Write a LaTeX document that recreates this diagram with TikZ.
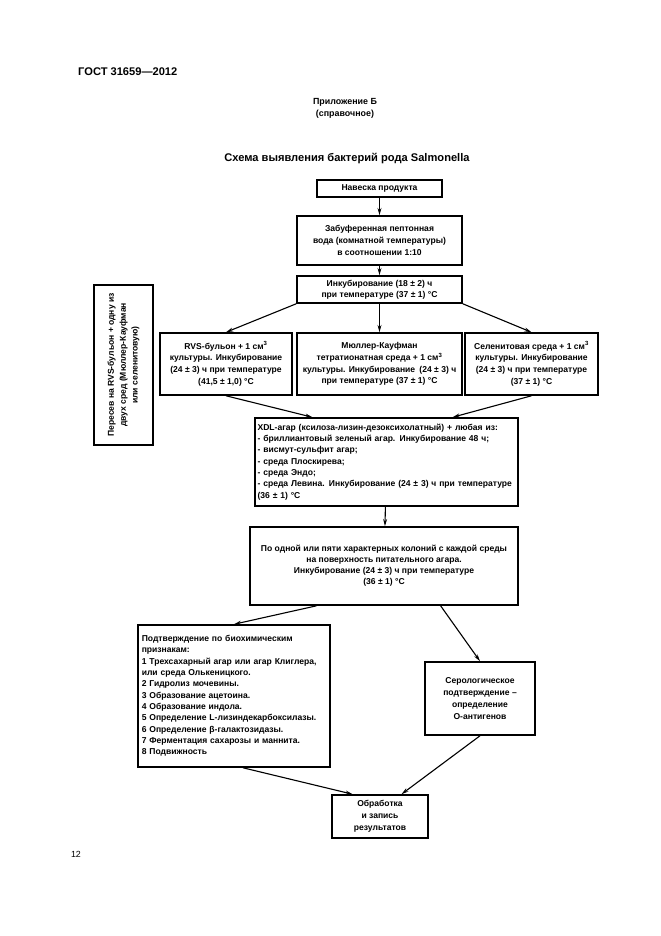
\documentclass[tikz,border=0pt]{standalone}
\usepackage{fontspec}
\setmainfont{Liberation Sans}
\usetikzlibrary{arrows.meta,calc}
\begin{document}
\begin{tikzpicture}[x=0.9pt,y=-0.9pt,
  box/.style={draw,line width=1.4pt,inner sep=2pt,align=center,
    font=\fontsize{7.7}{10.6}\selectfont\bfseries},
  arr/.style={line width=1pt,-{Stealth[length=6.5pt,width=3.5pt]}},
  hdr/.style={inner sep=0pt,font=\fontsize{10}{12}\selectfont\bfseries}]
\useasboundingbox (0,0) rectangle (661,936);
\fill[white] (0,0) rectangle (661,936);

\node[hdr,anchor=west] (gost) at (78,72) {ГОСТ 31659—2012};
\node[inner sep=0pt,align=center,font=\fontsize{8}{11}\selectfont\bfseries] (app) at (345,108) {Приложение Б\\(справочное)};
\node[hdr] (title) at (347,159) {Схема выявления бактерий рода Salmonella};

\node[box,minimum width=112.5pt,minimum height=15.3pt] (b1) at (379.5,188.5) {Навеска продукта};
\node[box,minimum width=148.5pt,minimum height=44.1pt] (b2) at (379.5,240.5) {Забуференная пептонная\\вода (комнатной температуры)\\в соотношении 1:10};
\node[box,minimum width=148.5pt,minimum height=24.3pt,font=\fontsize{7.7}{9.5}\selectfont\bfseries] (b3) at (379.5,289.5) {Инкубирование (18 ± 2) ч\\при температуре (37 ± 1) °С};
\node[box,minimum width=118.8pt,minimum height=55.8pt] (b4) at (226,364) {RVS-бульон + 1 см\textsuperscript{3}\\культуры. Инкубирование\\(24 ± 3) ч при температуре\\(41,5 ± 1,0) °С};
\node[box,minimum width=148.5pt,minimum height=55.8pt] (b5) at (379.5,364) {Мюллер-Кауфман\\тетратионатная среда + 1 см\textsuperscript{3}\\культуры. Инкубирование\enspace(24 ± 3) ч\\при температуре (37 ± 1) °С};
\node[box,minimum width=119.7pt,minimum height=55.8pt] (b6) at (531.5,364) {Селенитовая среда + 1 см\textsuperscript{3}\\культуры. Инкубирование\\(24 ± 3) ч при температуре\\(37 ± 1) °С};
\node[box,rotate=90,minimum width=144pt,minimum height=53.1pt] (b7) at (123.5,365) {Пересев на RVS-бульон + одну из\\двух сред (Мюллер-Кауфман\\или селенитовую)};
\node[box,minimum width=236.7pt,minimum height=79.2pt,align=left,text width=232pt,font=\fontsize{7.7}{10.2}\selectfont\bfseries] (b8) at (386.5,462) {XDL-агар (ксилоза-лизин-дезоксихолатный) + любая из:\\- бриллиантовый зеленый агар. Инкубирование 48 ч;\\- висмут-сульфит агар;\\- среда Плоскирева;\\- среда Эндо;\\- среда Левина. Инкубирование (24 ± 3) ч при температуре\\(36 ± 1) °С};
\node[box,minimum width=241.2pt,minimum height=70.2pt,font=\fontsize{7.7}{10}\selectfont\bfseries] (b9) at (384,566) {По одной или пяти характерных колоний с каждой среды\\на поверхность питательного агара.\\Инкубирование (24 ± 3) ч при температуре\\(36 ± 1) °С};
\node[box,minimum width=172.8pt,minimum height=127.8pt,align=left,text width=166pt,font=\fontsize{7.7}{10.2}\selectfont\bfseries] (b10) at (234,696) {Подтверждение по биохимическим\\признакам:\\1 Трехсахарный агар или агар Клиглера,\\или среда Олькеницкого.\\2 Гидролиз мочевины.\\3 Образование ацетоина.\\4 Образование индола.\\5 Определение L-лизиндекарбоксилазы.\\6 Определение β-галактозидазы.\\7 Ферментация сахарозы и маннита.\\8 Подвижность};
\node[box,minimum width=99pt,minimum height=65.7pt] (b11) at (480,698.5) {Серологическое\\подтверждение –\\определение\\О-антигенов};
\node[box,minimum width=86.4pt,minimum height=38.7pt] (b12) at (380,816.5) {Обработка\\и запись\\результатов};

\node[inner sep=0pt,font=\fontsize{8}{10}\selectfont] (page) at (76,854) {12};

\draw[arr] (b1) -- (b2);
\draw[arr] (b2) -- (b3);
\draw[arr] (b3.south west) -- (b4.north);
\draw[arr] (b3) -- (b5);
\draw[arr] (b3.south east) -- (b6.north);
\draw[arr] (b4.south) -- ($(b8.north west)!0.22!(b8.north east)$);
\draw[arr] (b6.south) -- ($(b8.north west)!0.75!(b8.north east)$);
\draw[arr] (b8) -- (b9);
\draw[arr] ($(b9.south west)!0.25!(b9.south east)$) -- (b10.north);
\draw[arr] ($(b9.south west)!0.71!(b9.south east)$) -- (b11.north);
\draw[arr] ($(b10.south)+(9,0)$) -- ($(b12.north west)!0.22!(b12.north east)$);
\draw[arr] (b11.south) -- ($(b12.north west)!0.72!(b12.north east)$);
\end{tikzpicture}
\end{document}
